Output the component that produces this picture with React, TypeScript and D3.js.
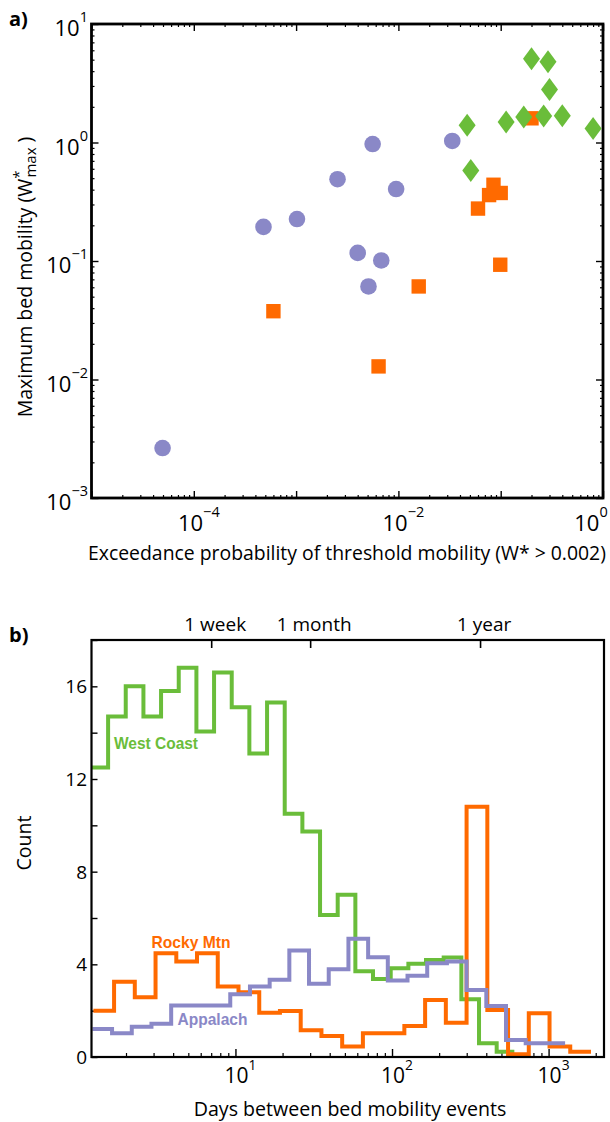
import React, { useEffect, useRef } from "react";
import * as d3 from "d3";

// panel a: exceedance probability of threshold mobility vs maximum bed mobility
const westCoastProb = [0.2, 0.29, 0.3, 0.047, 0.113, 0.168, 0.263, 0.4, 0.8, 0.051];
const westCoastMob = [5.1, 4.8, 2.8, 1.4, 1.49, 1.64, 1.67, 1.68, 1.31, 0.58];
const rockyProb = [0.2, 0.085, 0.077, 0.1, 0.06, 0.099, 0.0158, 0.0006, 0.0064];
const rockyMob = [1.6, 0.44, 0.36, 0.375, 0.277, 0.093, 0.061, 0.0377, 0.0129];
const appalachProb = [0.0056, 0.00254, 0.0095, 0.0336, 0.00048, 0.00102, 0.004, 0.0068, 0.0051, 0.0000495];
const appalachMob = [0.97, 0.49, 0.405, 1.03, 0.194, 0.226, 0.117, 0.101, 0.061, 0.00264];

// panel b: histogram bin edges (days) and counts per region
const westCoastEdges = [1.184, 1.537, 1.992, 2.584, 3.349, 4.343, 5.632, 7.302, 9.468, 12.27, 15.92, 20.64, 26.76, 34.7, 44.99, 58.33, 75.6, 98.1, 127.2, 164.9, 213.8, 277.3, 359.5, 466.1, 604.3];
const westCoastCounts = [12.5, 14.7, 16.0, 14.7, 15.8, 16.8, 14.05, 16.6, 15.1, 13.1, 15.3, 10.5, 9.73, 6.13, 7.0, 3.7, 3.37, 3.83, 4.02, 4.19, 4.3, 2.49, 0.59, 0.23];
const rockyEdges = [1.238, 1.678, 2.276, 3.088, 4.19, 5.683, 7.709, 10.46, 14.19, 19.24, 26.11, 35.42, 48.04, 65.17, 88.4, 119.9, 162.7, 220.7, 299.4, 406.2, 551, 747.4, 1014, 1375, 1866];
const rockyCounts = [2.0, 3.25, 2.58, 4.48, 4.12, 4.48, 3.04, 2.8, 1.91, 1.99, 1.15, 0.91, 0.45, 1.02, 1.02, 1.34, 2.46, 1.48, 10.8, 2.03, 0.12, 1.89, 0.45, 0.23];
const appalachEdges = [1.22, 1.629, 2.177, 2.908, 3.886, 5.191, 6.934, 9.265, 12.38, 16.54, 22.09, 29.51, 39.43, 52.68, 70.38, 94.0, 125.6, 167.8, 224.2, 299.5, 400.2, 534.6, 714.2, 954.1, 1275];
const appalachCounts = [1.21, 1.02, 1.31, 1.43, 2.22, 2.22, 2.22, 2.71, 3.04, 3.33, 4.6, 3.16, 3.79, 5.1, 4.31, 3.3, 3.51, 4.05, 4.12, 2.89, 2.2, 0.73, 0.59, 0.59];

const periodDays = [7, 30, 365];
const periodLabels = ["1 week", "1 month", "1 year"];

const GREEN = "#6abd3a";
const ORANGE = "#ff6a00";
const PURPLE = "#8a88c7";
const FONT = "'Open Sans', 'Noto Sans', sans-serif";
const LABEL_FONT = "'Liberation Sans', Arial, sans-serif";

function logTicks(lo: number, hi: number) {
    const major: number[] = [];
    const minor: number[] = [];
    for (let e = Math.floor(Math.log10(lo)); e <= Math.ceil(Math.log10(hi)); e++) {
        for (let m = 1; m <= 9; m++) {
            const v = m * Math.pow(10, e);
            if (v < lo * 0.999 || v > hi * 1.001) continue;
            if (m === 1) major.push(v); else minor.push(v);
        }
    }
    return { major, minor };
}

function tickAxis(g: any, axis: any, values: number[], size: number, width: number) {
    g.call(axis.tickValues(values).tickSize(size).tickFormat(() => ""));
    g.select(".domain").remove();
    g.selectAll("line").attr("stroke", "#000").attr("stroke-width", width);
}

function powLabel(g: any, x: number, y: number, exp: number, size: number, anchor: string) {
    const t = g.append("text")
        .attr("x", x).attr("y", y)
        .attr("text-anchor", anchor)
        .attr("font-family", FONT)
        .attr("font-size", size)
        .attr("fill", "#000");
    t.append("tspan").text("10");
    t.append("tspan")
        .attr("font-size", size * 0.66)
        .attr("dy", -size * 0.62)
        .text(exp < 0 ? "\u2212" + Math.abs(exp) : String(exp));
}

function drawScatter(svg: any) {
    const L = 91.5, R = 603, T = 24, B = 498;
    const x = d3.scaleLog().domain([1e-5, 1]).range([L, R]);
    const y = d3.scaleLog().domain([1e-3, 10]).range([B, T]);
    const g = svg.append("g");

    const xt = logTicks(1e-5, 1);
    const yt = logTicks(1e-3, 10);
    tickAxis(g.append("g").attr("transform", `translate(0,${B})`), d3.axisBottom(x), xt.minor, -3, 1.2);
    tickAxis(g.append("g").attr("transform", `translate(0,${B})`), d3.axisBottom(x), xt.major, -7, 1.4);
    tickAxis(g.append("g").attr("transform", `translate(0,${T})`), d3.axisTop(x), xt.minor, -3, 1.2);
    tickAxis(g.append("g").attr("transform", `translate(0,${T})`), d3.axisTop(x), xt.major, -7, 1.4);
    tickAxis(g.append("g").attr("transform", `translate(${L},0)`), d3.axisLeft(y), yt.minor, -3, 1.2);
    tickAxis(g.append("g").attr("transform", `translate(${L},0)`), d3.axisLeft(y), yt.major, -7, 1.4);
    tickAxis(g.append("g").attr("transform", `translate(${R},0)`), d3.axisRight(y), yt.minor, -3, 1.2);
    tickAxis(g.append("g").attr("transform", `translate(${R},0)`), d3.axisRight(y), yt.major, -7, 1.4);

    g.append("rect")
        .attr("x", L).attr("y", T).attr("width", R - L).attr("height", B - T)
        .attr("fill", "none").attr("stroke", "#000").attr("stroke-width", 2.8);

    yt.major.forEach((v) => powLabel(g, 88, y(v) + 12, Math.round(Math.log10(v)), 22, "end"));
    // last label pulled in so it stays inside the page, as in the original
    [1e-4, 1e-2, 1].forEach((v) => powLabel(g, Math.min(x(v) + 5, 591), 531, Math.round(Math.log10(v)), 22, "middle"));

    // markers: circles, then squares, diamonds on top
    const pts = (px: number[], py: number[]) => px.map((p, i) => [p, py[i]]);
    g.selectAll(".ap").data(pts(appalachProb, appalachMob)).enter().append("circle")
        .attr("cx", (d: number[]) => x(d[0])).attr("cy", (d: number[]) => y(d[1]))
        .attr("r", 8.3).attr("fill", PURPLE);
    g.selectAll(".rm").data(pts(rockyProb, rockyMob)).enter().append("rect")
        .attr("x", (d: number[]) => x(d[0]) - 7.2).attr("y", (d: number[]) => y(d[1]) - 7.2)
        .attr("width", 14.4).attr("height", 14.4).attr("fill", ORANGE);
    g.selectAll(".wc").data(pts(westCoastProb, westCoastMob)).enter().append("path")
        .attr("transform", (d: number[]) => `translate(${x(d[0])},${y(d[1])})`)
        .attr("d", "M0,-11.5L8.5,0L0,11.5L-8.5,0Z")
        .attr("fill", GREEN);

    g.append("text")
        .attr("x", 88).attr("y", 560)
        .attr("font-family", FONT).attr("font-size", 19.4)
        .text("Exceedance probability of threshold mobility  (W* > 0.002)");

    const yl = g.append("text")
        .attr("transform", "translate(32,277) rotate(-90)")
        .attr("text-anchor", "middle")
        .attr("font-family", FONT).attr("font-size", 19.5);
    yl.append("tspan").text("Maximum bed mobility  (W");
    yl.append("tspan").attr("font-size", 15).attr("dy", -8).text("*");
    yl.append("tspan").attr("font-size", 15).attr("dx", -7).attr("dy", 12).text("max");
    yl.append("tspan").attr("dy", -4).text(" )");

    g.append("text")
        .attr("x", 9).attr("y", 26)
        .attr("font-family", FONT).attr("font-weight", "bold").attr("font-size", 20)
        .text("a)");
}

function drawHistogram(svg: any) {
    const L = 91.5, R = 604, T = 640, B = 1057;
    const x = d3.scaleLog().domain([1.204, 2259]).range([L, R]);
    const y = d3.scaleLinear().domain([0, 18]).range([B, T]);
    const g = svg.append("g");

    const xt = logTicks(1.204, 2259);
    tickAxis(g.append("g").attr("transform", `translate(0,${B})`), d3.axisBottom(x), xt.minor, -4, 1.2);
    tickAxis(g.append("g").attr("transform", `translate(0,${B})`), d3.axisBottom(x), xt.major, -8, 1.4);
    tickAxis(g.append("g").attr("transform", `translate(0,${T})`), d3.axisTop(x), periodDays, -8, 1.6);
    tickAxis(g.append("g").attr("transform", `translate(${L},0)`), d3.axisLeft(y), d3.range(0, 19, 2), -6, 1.4);

    g.append("defs").append("clipPath").attr("id", "histclip")
        .append("rect").attr("x", L).attr("y", T).attr("width", R - L).attr("height", B - T);

    const line = d3.line<number[]>()
        .x((d) => x(d[0]))
        .y((d) => y(d[1]))
        .curve(d3.curveStepAfter);
    const series = [
        { edges: westCoastEdges, counts: westCoastCounts, color: GREEN },
        { edges: rockyEdges, counts: rockyCounts, color: ORANGE },
        { edges: appalachEdges, counts: appalachCounts, color: PURPLE },
    ];
    series.forEach((s) => {
        const pts = s.edges.map((e, i) => [e, s.counts[Math.min(i, s.counts.length - 1)]]);
        g.append("path")
            .attr("clip-path", "url(#histclip)")
            .attr("d", line(pts))
            .attr("fill", "none")
            .attr("stroke", s.color)
            .attr("stroke-width", 4)
            .attr("stroke-linejoin", "miter");
    });

    g.append("rect")
        .attr("x", L).attr("y", T).attr("width", R - L).attr("height", B - T)
        .attr("fill", "none").attr("stroke", "#000").attr("stroke-width", 2.2);

    [0, 4, 8, 12, 16].forEach((v) => {
        g.append("text")
            .attr("x", 87).attr("y", y(v) + 7)
            .attr("text-anchor", "end")
            .attr("font-family", FONT).attr("font-size", 19)
            .text(v);
    });
    xt.major.forEach((v) => powLabel(g, x(v) + 5, 1083, Math.round(Math.log10(v)), 21, "middle"));

    periodDays.forEach((d, i) => {
        g.append("text")
            .attr("x", x(d) + 4).attr("y", 631)
            .attr("text-anchor", "middle")
            .attr("font-family", FONT).attr("font-size", 19)
            .text(periodLabels[i]);
    });

    const tag = (txt: string, color: string, tx: number, ty: number, len: number) =>
        g.append("text")
            .attr("x", tx).attr("y", ty)
            .attr("font-family", LABEL_FONT).attr("font-weight", "bold").attr("font-size", 17)
            .attr("textLength", len).attr("lengthAdjust", "spacingAndGlyphs")
            .attr("fill", color)
            .text(txt);
    tag("West Coast", GREEN, 114, 748.5, 84);
    tag("Rocky Mtn", ORANGE, 151.5, 947.5, 79);
    tag("Appalach", PURPLE, 177.5, 1024.5, 70);

    g.append("text")
        .attr("transform", "translate(31,843) rotate(-90)")
        .attr("text-anchor", "middle")
        .attr("font-family", FONT).attr("font-size", 19.5)
        .text("Count");
    g.append("text")
        .attr("x", 350).attr("y", 1116)
        .attr("text-anchor", "middle")
        .attr("font-family", FONT).attr("font-size", 19.6)
        .text("Days between bed mobility events");

    g.append("text")
        .attr("x", 9).attr("y", 642)
        .attr("font-family", FONT).attr("font-weight", "bold").attr("font-size", 20)
        .text("b)");
}

export default function App() {
    const ref = useRef<SVGSVGElement>(null);

    useEffect(() => {
        const svg = d3.select(ref.current);
        svg.selectAll("*").remove();
        drawScatter(svg);
        drawHistogram(svg);
    }, []);

    return (
        <svg
            ref={ref}
            width={610}
            height={1122}
            style={{ position: "absolute", left: 0, top: 0, background: "#fff" }}
        />
    );
}
